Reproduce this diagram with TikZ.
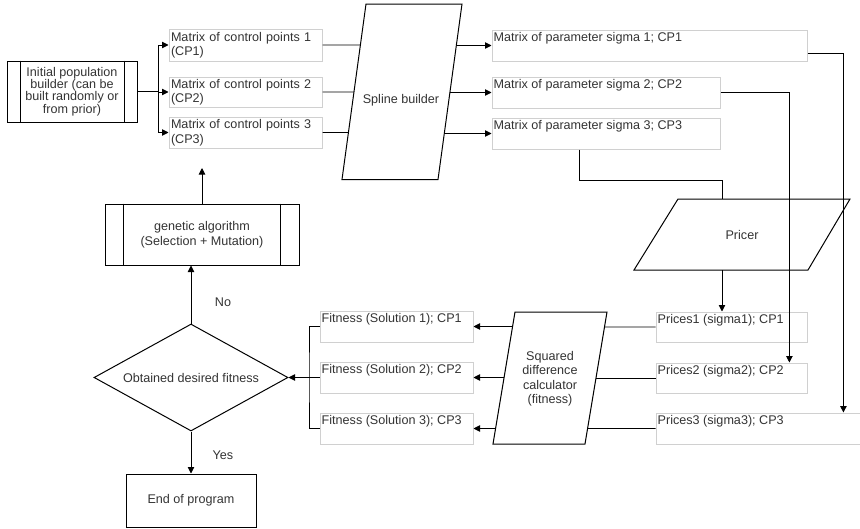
\documentclass[tikz,border=0pt]{standalone}
\usepackage{fontspec}
\setmainfont{Liberation Sans}
\usetikzlibrary{arrows.meta,calc,shapes.geometric}
\definecolor{txt}{RGB}{51,51,51}
\definecolor{lbord}{RGB}{208,208,208}
\begin{document}
\begin{tikzpicture}[x=1pt,y=-1pt,
  font=\fontsize{12.6}{14.5}\selectfont, text=txt,
  box/.style={draw=black, line width=1pt, text=txt, align=center, inner sep=0pt},
  lbox/.style={draw=lbord, line width=1pt, inner ysep=0pt, inner xsep=2pt, align=left},
  conn/.style={draw=black, line width=0.9pt},
  arr/.style={-{Triangle[length=6.5pt,width=6.5pt]}},
  tl/.style={anchor=north west, inner sep=0pt}]
\useasboundingbox (0,0) rectangle (860,528);

% initial population builder
\node[box, minimum width=130pt, minimum height=61pt,
      font=\fontsize{12.6}{12.4}\selectfont] (init) at (72,91.5)
  {Initial population\\builder (can be\\built randomly or\\from prior)};
\draw[line width=1pt] ([xshift=14pt]init.north west) -- ([xshift=14pt]init.south west);
\draw[line width=1pt] ([xshift=-13pt]init.north east) -- ([xshift=-13pt]init.south east);

% control point matrices
\node[lbox, minimum width=153pt, minimum height=32pt, text width=149pt] (cp1) at (245.5,45) {Matrix of control points 1\\(CP1)};
\node[lbox, minimum width=153pt, minimum height=30pt, text width=149pt] (cp2) at (245.5,92) {Matrix of control points 2\\(CP2)};
\node[lbox, minimum width=153pt, minimum height=31pt, text width=149pt] (cp3) at (245.5,132.5) {Matrix of control points 3\\(CP3)};

% spline builder
\coordinate (spTL) at (366,4);
\coordinate (spTR) at (462,4);
\coordinate (spBR) at (438,179.5);
\coordinate (spBL) at (342,179.5);
\draw[line width=1pt] (spTL) -- (spTR) -- (spBR) -- (spBL) -- cycle;
\node (spl) at (401,100) {Spline builder};

% sigma matrices
\node[lbox, minimum width=315pt, minimum height=31pt] (s1) at (649.5,45.5) {};
\node[tl] (s1t) at ([shift={(2pt,-3pt)}]s1.north west) {Matrix of parameter sigma 1; CP1};
\node[lbox, minimum width=228pt, minimum height=31pt] (s2) at (606,92.5) {};
\node[tl] (s2t) at ([shift={(2pt,-3pt)}]s2.north west) {Matrix of parameter sigma 2; CP2};
\node[lbox, minimum width=228pt, minimum height=31pt] (s3) at (606,133.5) {};
\node[tl] (s3t) at ([shift={(2pt,-3pt)}]s3.north west) {Matrix of parameter sigma 3; CP3};

% pricer
\coordinate (prTL) at (678,199);
\coordinate (prTR) at (850,199);
\coordinate (prBR) at (808,270);
\coordinate (prBL) at (634,270);
\draw[line width=1pt] (prTL) -- (prTR) -- (prBR) -- (prBL) -- cycle;
\node (pricer) at (742,235) {Pricer};

% prices
\node[lbox, minimum width=151pt, minimum height=30pt] (p1) at (731.5,327) {};
\node[tl] (p1t) at ([shift={(2pt,-3pt)}]p1.north west) {Prices1 (sigma1); CP1};
\node[lbox, minimum width=151pt, minimum height=30pt] (p2) at (731.5,378) {};
\node[tl] (p2t) at ([shift={(2pt,-3pt)}]p2.north west) {Prices2 (sigma2); CP2};
\node[lbox, minimum width=206pt, minimum height=31pt] (p3) at (759,428.5) {};
\node[tl] (p3t) at ([shift={(2pt,-3pt)}]p3.north west) {Prices3 (sigma3); CP3};

% squared difference calculator
\coordinate (sqTL) at (515,312);
\coordinate (sqTR) at (607,312);
\coordinate (sqBR) at (585,444);
\coordinate (sqBL) at (493,444);
\draw[line width=1pt] (sqTL) -- (sqTR) -- (sqBR) -- (sqBL) -- cycle;
\node[align=center] (sq) at (550,378.5) {Squared\\difference\\calculator\\(fitness)};

% fitness boxes
\node[lbox, minimum width=153pt, minimum height=31pt] (f1) at (396.5,326.5) {};
\node[tl] (f1t) at ([shift={(2pt,-3pt)}]f1.north west) {Fitness (Solution 1); CP1};
\node[lbox, minimum width=153pt, minimum height=31pt] (f2) at (396.5,377.5) {};
\node[tl] (f2t) at ([shift={(2pt,-3pt)}]f2.north west) {Fitness (Solution 2); CP2};
\node[lbox, minimum width=153pt, minimum height=31pt] (f3) at (396.5,428.5) {};
\node[tl] (f3t) at ([shift={(2pt,-3pt)}]f3.north west) {Fitness (Solution 3); CP3};

% decision
\node[draw=black, line width=1pt, diamond, aspect=1.81, inner sep=0pt,
      minimum width=194pt, minimum height=107pt] (dia) at (191,377.5) {Obtained desired fitness};

% genetic algorithm
\node[box, minimum width=194pt, minimum height=61pt] (ga) at (202,234.5)
  {genetic algorithm\\(Selection + Mutation)};
\draw[line width=1pt] ([xshift=19pt]ga.north west) -- ([xshift=19pt]ga.south west);
\draw[line width=1pt] ([xshift=-19pt]ga.north east) -- ([xshift=-19pt]ga.south east);

% end
\node[box, minimum width=130pt, minimum height=53pt] (end) at (191,500.5) {End of program};

\node (no) at (223,302) {No};
\node (yes) at (223,455) {Yes};

% ---------- connectors ----------
\coordinate (bus) at (158,91.5);
\draw[conn] (init.east) -- (bus);
\draw[conn,arr] (bus) |- (cp1.west);
\draw[conn,arr] (bus) |- (cp2.west);
\draw[conn,arr] (bus) |- (cp3.west);

\draw[conn] (cp1.east) -- ($(spTL)!0.2336!(spBL)$);
\draw[conn] (cp2.east) -- ($(spTL)!0.5014!(spBL)$);
\draw[conn] (cp3.east) -- ($(spTL)!0.7322!(spBL)$);

\draw[conn,arr] ($(spTR)!0.2365!(spBR)$) -- (s1.west);
\draw[conn,arr] ($(spTR)!0.5043!(spBR)$) -- (s2.west);
\draw[conn,arr] ($(spTR)!0.7379!(spBR)$) -- (s3.west);

\coordinate (s1x) at ($(s1.north east)!0.74!(s1.south east)$);
\coordinate (p3in) at ($(p3.north west)!0.9078!(p3.north east)$);
\draw[conn,arr] (s1x) -| (p3in);

\coordinate (p2in) at ($(p2.north west)!0.8808!(p2.north east)$);
\draw[conn,arr] (s2.east) -| (p2in);

\coordinate (s3out) at ($(s3.south west)!0.386!(s3.south east)$);
\coordinate (prTop) at ($(prTL)!0.2558!(prTR)$);
\draw[conn] (s3out) -- ++(0,30.5) -| (prTop);

\coordinate (prBot) at ($(prBL)!0.5057!(prBR)$);
\draw[conn,arr] (prBot) -- (prBot |- p1.north);

\draw[conn] (p1.west) -- ($(sqTR)!0.1136!(sqBR)$);
\draw[conn] (p2.west) -- ($(sqTR)!0.5!(sqBR)$);
\draw[conn] (p3.west) -- ($(sqTR)!0.8826!(sqBR)$);

\draw[conn,arr] ($(sqTL)!0.1098!(sqBL)$) -- (f1.east);
\draw[conn,arr] ($(sqTL)!0.4962!(sqBL)$) -- (f2.east);
\draw[conn,arr] ($(sqTL)!0.8826!(sqBL)$) -- (f3.east);

\coordinate (fb) at (309,377.5);
\draw[conn] (f1.west) -| (fb) |- (f3.west);
\draw[conn,arr] (f2.west) -- (dia.east);

\draw[conn,arr] (dia.north) -- (dia.north |- ga.south);
\draw[conn,arr] (dia.south) -- (dia.south |- end.north);
\coordinate (gaTip) at (202,168);
\draw[conn,arr] (ga.north) -- (gaTip);
\end{tikzpicture}
\end{document}
